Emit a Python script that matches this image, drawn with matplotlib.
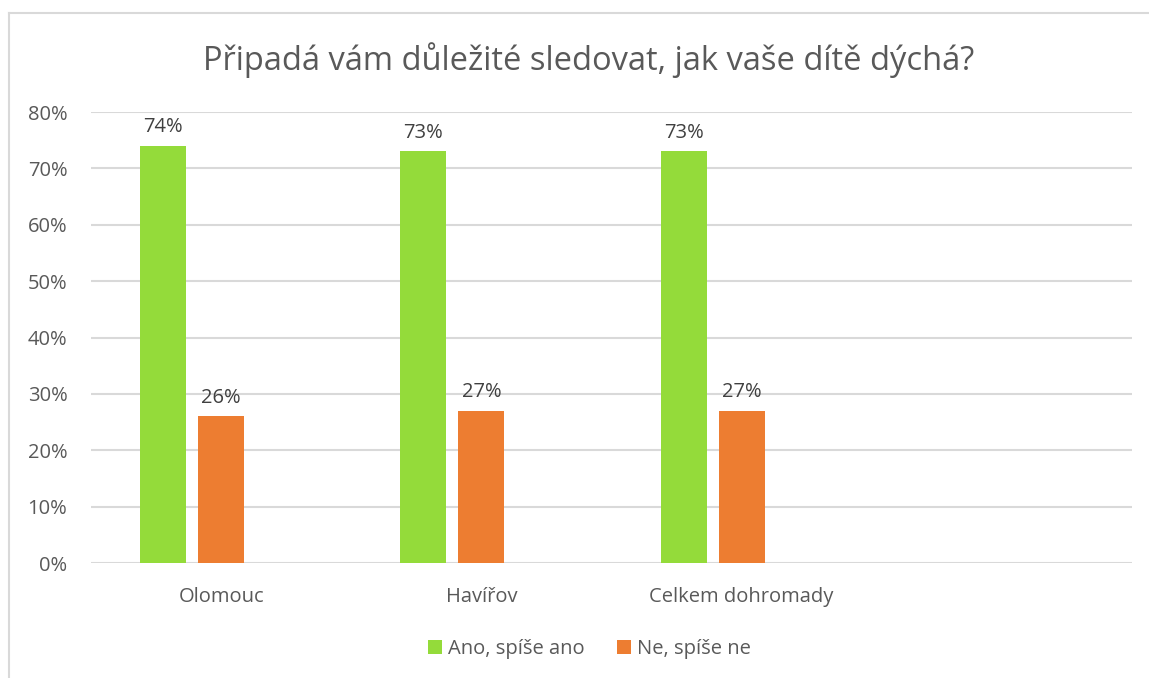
import matplotlib
matplotlib.use("Agg")
import matplotlib.pyplot as plt
import numpy as np
from matplotlib.lines import Line2D

plt.rcParams["font.family"] = ["Open Sans", "DejaVu Sans"]

title = "Připadá vám důležité sledovat, jak vaše dítě dýchá?"
categories = ["Olomouc", "Havířov", "Celkem dohromady", ""]
series_names = ["Ano, spíše ano", "Ne, spíše ne"]
ano = [74, 73, 73, None]
ne = [26, 27, 27, None]
yticks = [0, 10, 20, 30, 40, 50, 60, 70, 80]

GREEN = "#94DB3A"
ORANGE = "#ED7D31"
TEXT = "#595959"
GRID = "#D9D9D9"

fig = plt.figure(figsize=(11.49, 6.78), dpi=100)
ax = fig.add_axes([0.0792, 0.1696, 0.9060, 0.6652])

x = np.arange(len(categories))
step = 0.223
width = 0.177

for vals, off, color, name in [(ano, -step, GREEN, series_names[0]), (ne, 0.0, ORANGE, series_names[1])]:
    xs = [xi + off for xi, v in zip(x, vals) if v is not None]
    vs = [v for v in vals if v is not None]
    ax.bar(xs, vs, width=width, color=color, label=name, zorder=3)
    for xi, v in zip(xs, vs):
        ax.annotate(f"{v}%", (xi, v), xytext=(0, 6), textcoords="offset points",
                    ha="center", va="bottom", fontsize=14.5, color="#404040")

ax.set_xlim(-0.5, len(categories) - 0.5)
ax.set_ylim(0, 80)
ax.set_yticks(yticks)
ax.set_yticklabels([f"{t}%" for t in yticks])
ax.set_xticks(x)
ax.set_xticklabels(categories)
ax.tick_params(axis="both", length=0, labelsize=14.5, labelcolor=TEXT)
ax.tick_params(axis="x", pad=17)
ax.tick_params(axis="y", pad=17)
ax.grid(axis="y", color=GRID, linewidth=1.5, zorder=0)
ax.set_axisbelow(True)
for s in ax.spines.values():
    s.set_visible(False)

fig.text(0.512, 0.911, title, ha="center", va="center", fontsize=23.5, color=TEXT)

leg = fig.legend(loc="center", bbox_to_anchor=(0.513, 0.043), ncol=2, frameon=False,
                 fontsize=14.5, handlelength=0.7, handleheight=0.7, handletextpad=0.3,
                 columnspacing=1.6)
for t in leg.get_texts():
    t.set_color(TEXT)

# outer chart frame: only top and left edges are inside the picture
top = 1 - 13 / 678
left = 9 / 1149
fig.add_artist(Line2D([left, 1.0], [top, top], transform=fig.transFigure, color=GRID, linewidth=1.5))
fig.add_artist(Line2D([left, left], [0.0, top], transform=fig.transFigure, color=GRID, linewidth=1.5))

fig.savefig("out.png")
